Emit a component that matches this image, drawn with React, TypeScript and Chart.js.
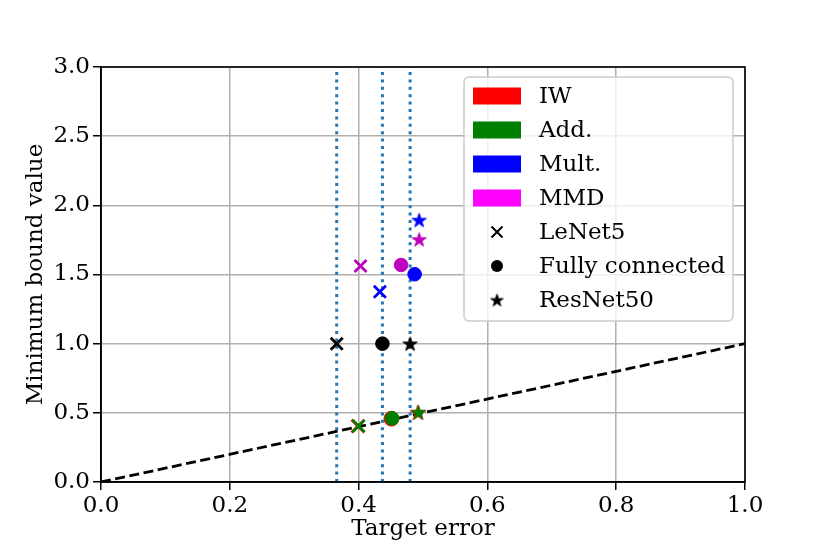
import React, { useEffect, useRef } from 'react';
import { Chart, registerables } from 'chart.js';

Chart.register(...registerables);

// ---------- data ----------
const methods = ['IW', 'Add.', 'Mult.', 'MMD'];
const legendColors = ['#ff0000', '#008000', '#0000ff', '#ff00ff'];
const markerColors = ['#ff0000', '#008000', '#0000ff', '#bf00bf'];
const models = ['LeNet5', 'Fully connected', 'ResNet50'];

// reference (source) points per model: LeNet5, Fully connected, ResNet50
const refErrors = [0.366, 0.437, 0.48];
const refBounds = [1.0, 1.0, 1.0];

const iwErrors = [0.399, 0.451, 0.492];
const iwBounds = [0.404, 0.458, 0.504];
const addErrors = [0.4, 0.452, 0.493];
const addBounds = [0.405, 0.46, 0.505];
const multErrors = [0.433, 0.487, 0.494];
const multBounds = [1.376, 1.502, 1.894];
const mmdErrors = [0.403, 0.466, 0.494];
const mmdBounds = [1.561, 1.569, 1.754];

const diagX = [0, 1];
const diagY = [0, 1];

const xMin = 0, xMax = 1, xStep = 0.2;
const yMin = 0, yMax = 3, yStep = 0.5;

const FONT = "'DejaVu Serif', 'Liberation Serif', serif";
const FS = 23;

function makeStar(color: string, outer: number): HTMLCanvasElement {
  const size = Math.ceil(outer * 2 + 4);
  const c = document.createElement('canvas');
  c.width = size;
  c.height = size;
  const g = c.getContext('2d')!;
  const cx = size / 2, cy = size / 2 + outer * 0.1;
  const inner = outer * 0.381966;
  g.beginPath();
  for (let i = 0; i < 10; i++) {
    const r = i % 2 === 0 ? outer : inner;
    const a = -Math.PI / 2 + (i * Math.PI) / 5;
    const px = cx + r * Math.cos(a);
    const py = cy + r * Math.sin(a);
    if (i === 0) g.moveTo(px, py);
    else g.lineTo(px, py);
  }
  g.closePath();
  g.fillStyle = color;
  g.fill();
  g.strokeStyle = color;
  g.lineWidth = 1;
  g.stroke();
  return c;
}

function zip(xs: number[], ys: number[]) {
  return xs.map((x, i) => ({ x, y: ys[i] }));
}

function markerDataset(label: string, color: string, xs: number[], ys: number[], order: number, bigger = 0) {
  return {
    label,
    data: zip(xs, ys),
    order,
    showLine: false,
    pointStyle: ['crossRot', 'circle', makeStar(color, 7.5 + bigger)],
    pointRadius: [8.5 + bigger, 6.8 + bigger, 7],
    pointBorderWidth: [2.8, 1, 0],
    pointBorderColor: color,
    pointBackgroundColor: color,
    borderColor: color,
    backgroundColor: color,
  };
}

const framePlugin = {
  id: 'frameAndLegend',
  afterDraw(chart: any) {
    const ctx = chart.ctx as CanvasRenderingContext2D;
    const { left, top, right, bottom } = chart.chartArea;
    ctx.save();
    ctx.strokeStyle = '#000';
    ctx.lineWidth = 1.6;
    ctx.strokeRect(left, top, right - left, bottom - top);

    // legend
    const bw = 269, bh = 244;
    const bx = right - 12 - bw;
    const by = top + 10;
    const r = 5;
    ctx.beginPath();
    ctx.moveTo(bx + r, by);
    ctx.arcTo(bx + bw, by, bx + bw, by + bh, r);
    ctx.arcTo(bx + bw, by + bh, bx, by + bh, r);
    ctx.arcTo(bx, by + bh, bx, by, r);
    ctx.arcTo(bx, by, bx + bw, by, r);
    ctx.closePath();
    ctx.fillStyle = 'rgba(255,255,255,0.8)';
    ctx.fill();
    ctx.strokeStyle = '#cccccc';
    ctx.lineWidth = 1.5;
    ctx.stroke();

    ctx.font = `${FS}px ${FONT}`;
    ctx.textBaseline = 'middle';
    ctx.textAlign = 'left';
    const row0 = by + 19;
    const dy = 34;
    const textX = bx + 75;
    const markX = bx + 33;
    methods.forEach((m, i) => {
      const cy = row0 + i * dy;
      ctx.fillStyle = legendColors[i];
      ctx.fillRect(bx + 9, cy - 8.5, 48, 17);
      ctx.fillStyle = '#000';
      ctx.fillText(m, textX, cy + 1);
    });
    models.forEach((m, j) => {
      const cy = row0 + (methods.length + j) * dy;
      ctx.fillStyle = '#000';
      ctx.strokeStyle = '#000';
      if (j === 0) {
        ctx.lineWidth = 2;
        const d = 5.5;
        ctx.beginPath();
        ctx.moveTo(markX - d, cy - d);
        ctx.lineTo(markX + d, cy + d);
        ctx.moveTo(markX - d, cy + d);
        ctx.lineTo(markX + d, cy - d);
        ctx.stroke();
      } else if (j === 1) {
        ctx.beginPath();
        ctx.arc(markX, cy, 6, 0, Math.PI * 2);
        ctx.fill();
      } else {
        const star = makeStar('#000', 6.5);
        ctx.drawImage(star, markX - star.width / 2, cy - star.height / 2);
      }
      ctx.fillStyle = '#000';
      ctx.fillText(m, textX, cy + 1);
    });
    ctx.restore();
  },
};

export default function App() {
  const ref = useRef<HTMLCanvasElement | null>(null);

  useEffect(() => {
    if (!ref.current) return;
    const vlineSets = refErrors.map((x, i) => ({
      label: 'ref' + i,
      data: [{ x, y: yMin }, { x, y: yMax }],
      order: 10,
      showLine: true,
      borderColor: '#1f77b4',
      borderWidth: 3,
      borderDash: [3, 4.4],
      pointRadius: 0,
      fill: false,
    }));
    const chart = new Chart(ref.current, {
      type: 'scatter',
      data: {
        datasets: [
          markerDataset('Ref', '#000000', refErrors, refBounds, 0),
          markerDataset(methods[3], markerColors[3], mmdErrors, mmdBounds, 0),
          markerDataset(methods[2], markerColors[2], multErrors, multBounds, 0),
          markerDataset(methods[1], markerColors[1], addErrors, addBounds, 1),
          markerDataset(methods[0], markerColors[0], iwErrors, iwBounds, 2, 0.6),
          {
            label: 'diag',
            data: zip(diagX, diagY),
            order: 5,
            showLine: true,
            borderColor: '#000',
            borderWidth: 2.8,
            borderDash: [10, 4.5],
            pointRadius: 0,
            fill: false,
          },
          ...vlineSets,
        ] as any,
      },
      options: {
        responsive: false,
        animation: false,
        events: [],
        layout: { padding: { left: 0, top: 67, right: 83, bottom: 0 } },
        plugins: {
          legend: { display: false },
          tooltip: { enabled: false },
        },
        scales: {
          x: {
            type: 'linear',
            min: xMin,
            max: xMax,
            afterFit: (s: any) => { s.height = 70; },
            ticks: {
              stepSize: xStep,
              color: '#000',
              font: { family: FONT, size: FS },
              padding: 2,
              maxRotation: 0,
              callback: (v: any) => Number(v).toFixed(1),
            },
            grid: {
              color: '#b0b0b0',
              lineWidth: 1.5,
              tickColor: '#000',
              tickLength: 8,
              tickWidth: 1.5,
            },
            border: { color: '#000', width: 1.6 },
            title: {
              display: true,
              text: 'Target error',
              color: '#000',
              font: { family: FONT, size: FS },
              padding: { top: 0, bottom: 9 },
            },
          },
          y: {
            type: 'linear',
            min: yMin,
            max: yMax,
            afterFit: (s: any) => { s.width = 101; },
            ticks: {
              stepSize: yStep,
              color: '#000',
              font: { family: FONT, size: FS },
              padding: 3,
              callback: (v: any) => Number(v).toFixed(1),
            },
            grid: {
              color: '#b0b0b0',
              lineWidth: 1.5,
              tickColor: '#000',
              tickLength: 8,
              tickWidth: 1.5,
            },
            border: { color: '#000', width: 1.6 },
            title: {
              display: true,
              text: 'Minimum bound value',
              color: '#000',
              font: { family: FONT, size: FS },
              padding: { top: 22, bottom: 0 },
            },
          },
        },
      } as any,
      plugins: [framePlugin],
    });
    return () => chart.destroy();
  }, []);

  return (
    <div style={{ position: 'absolute', left: 0, top: 0, width: 828, height: 552, background: '#fff' }}>
      <canvas ref={ref} width={828} height={552} style={{ display: 'block', width: 828, height: 552 }} />
    </div>
  );
}
